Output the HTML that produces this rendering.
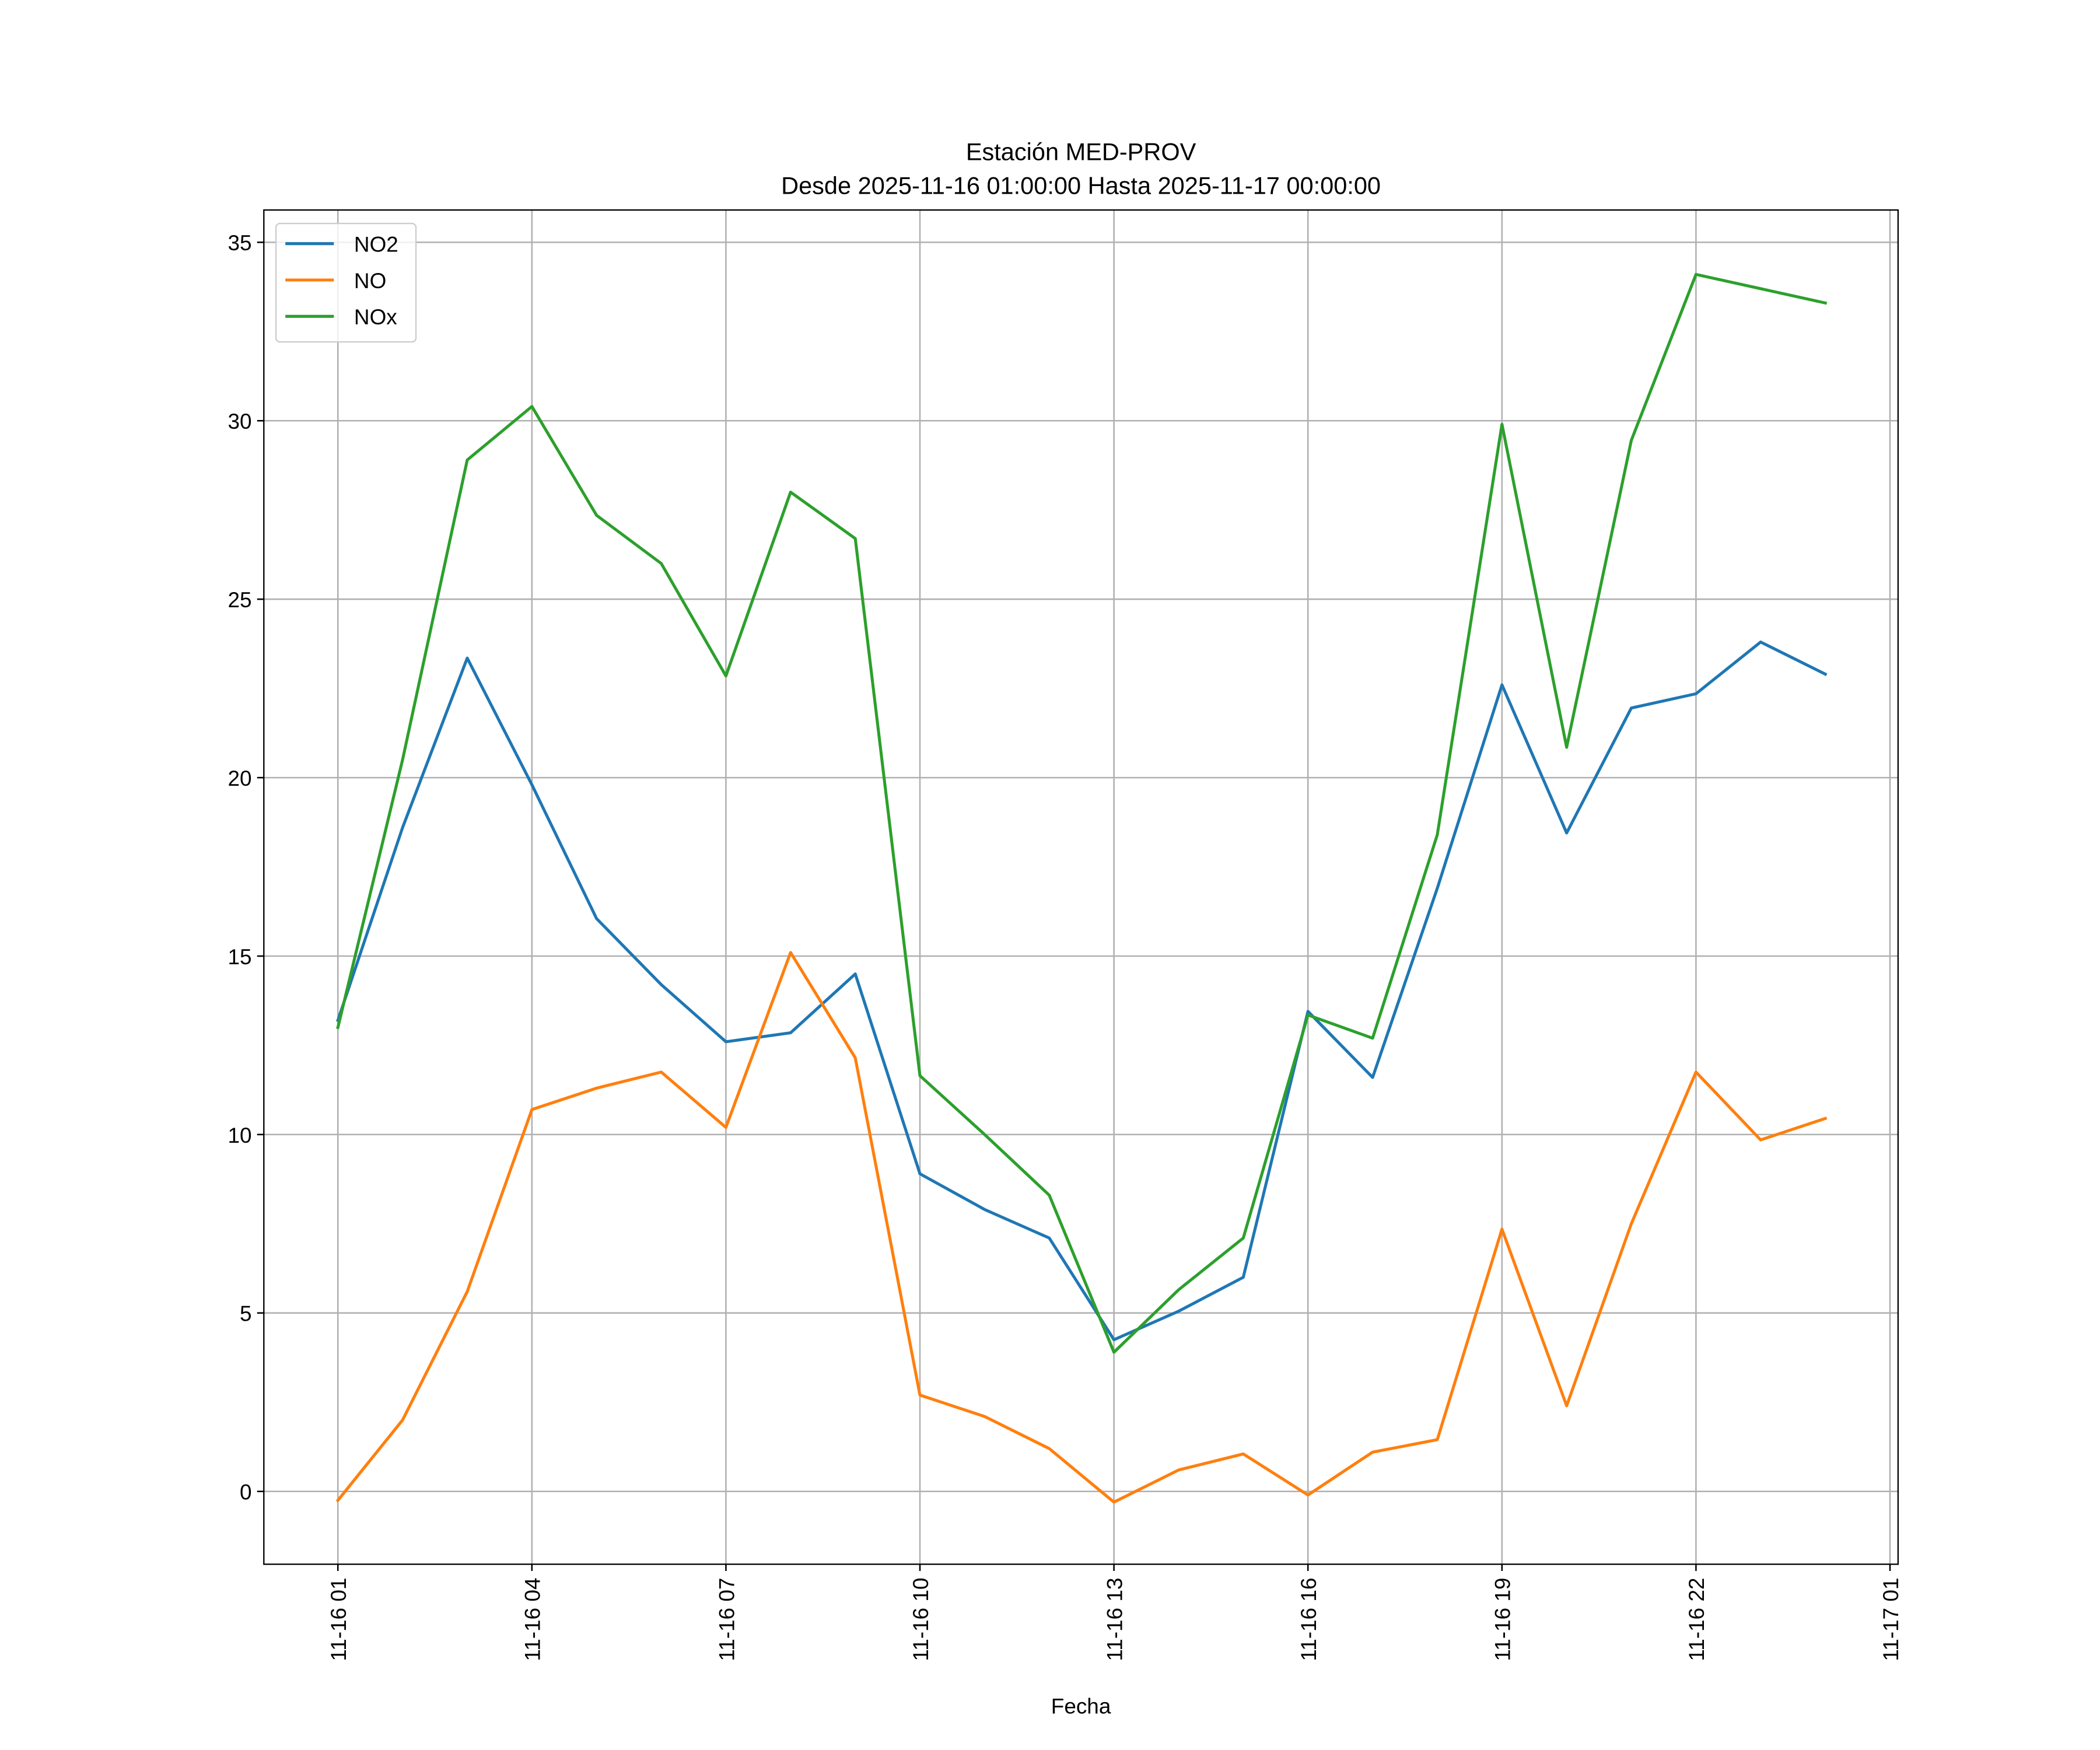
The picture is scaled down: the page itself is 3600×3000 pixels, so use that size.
<!DOCTYPE html>
<html><head><meta charset="utf-8"><style>
html,body{margin:0;padding:0;background:#fff}
svg{display:block}
text{font-family:"Liberation Sans","DejaVu Sans",sans-serif;fill:#000}
</style></head><body>
<svg id="chart" width="3600" height="3000" viewBox="0 0 1560 1300" xmlns="http://www.w3.org/2000/svg">
<rect width="1560" height="1300" fill="#fff"/>
<text x="803" y="119" font-size="18" text-anchor="middle">Estación MED-PROV</text>
<text x="803" y="144" font-size="18" text-anchor="middle">Desde 2025-11-16 01:00:00 Hasta 2025-11-17 00:00:00</text>
<g id="grid"></g>
<g id="series"></g>
<rect x="196" y="156" width="1214" height="1006" fill="none" stroke="#000" stroke-width="1"/>
<g id="axes"></g>
<text x="803" y="1273" font-size="16" text-anchor="middle">Fecha</text>
<g id="legend"></g>
</svg>
<script>
const hours=[0,1,2,3,4,5,6,7,8,9,10,11,12,13,14,15,16,17,18,19,20,21,22,23];
const no2=[13.2,18.6,23.35,19.8,16.05,14.2,12.6,12.85,14.5,8.9,7.9,7.1,4.25,5.05,6.0,13.45,11.6,16.9,22.6,18.45,21.95,22.35,23.8,22.9];
const no=[-0.25,2.0,5.6,10.7,11.3,11.75,10.2,15.1,12.15,2.7,2.1,1.2,-0.3,0.6,1.05,-0.1,1.1,1.45,7.35,2.4,7.5,11.75,9.85,10.45];
const nox=[13.0,20.5,28.9,30.4,27.35,26.0,22.85,28.0,26.7,11.65,10.0,8.3,3.9,5.65,7.1,13.35,12.7,18.4,29.9,20.85,29.45,34.1,33.7,33.3];
const yTicks=[0,5,10,15,20,25,30,35];
const xTickHours=[0,3,6,9,12,15,18,21,24];
const xTickLabels=["11-16 01","11-16 04","11-16 07","11-16 10","11-16 13","11-16 16","11-16 19","11-16 22","11-17 01"];
const seriesNames=["NO2","NO","NOx"];
const seriesColors=["#1f77b4","#ff7f0e","#2ca02c"];

const X0=196,X1=1410,Y0=1162,Y1=156;
const xMin=-1.145,xMax=24.125,yMin=-2.04,yMax=35.905;
const xs=h=>X0+(h-xMin)/(xMax-xMin)*(X1-X0);
const ys=v=>Y0-(v-yMin)/(yMax-yMin)*(Y0-Y1);
const NS="http://www.w3.org/2000/svg";
function mk(tag,attrs,parent){const e=document.createElementNS(NS,tag);for(const k in attrs)e.setAttribute(k,attrs[k]);parent.appendChild(e);return e;}
const grid=document.getElementById('grid'),axes=document.getElementById('axes'),ser=document.getElementById('series'),leg=document.getElementById('legend');

yTicks.forEach(v=>{
  const y=ys(v);
  const g=mk('line',{x1:X0,x2:X1,y1:y,y2:y,stroke:'#b0b0b0','stroke-width':1.1},grid);
  
  
  const t=mk('line',{x1:X0-5,x2:X0,y1:y,y2:y,stroke:'#000','stroke-width':1.1},axes);
  
  
  const l=mk('text',{x:X0-9,y:y+6,'font-size':16,'text-anchor':'end'},axes);
  l.textContent=v;
  
  
});
xTickHours.forEach((h,i)=>{
  const x=xs(h);
  const g=mk('line',{x1:x,x2:x,y1:Y0,y2:Y1,stroke:'#b0b0b0','stroke-width':1.1},grid);
  
  
  const t=mk('line',{x1:x,x2:x,y1:Y0,y2:Y0+5,stroke:'#000','stroke-width':1.1},axes);
  
  
  const l=mk('text',{x:0,y:0,'font-size':16,'text-anchor':'end',transform:`translate(${x+6},${Y0+10}) rotate(-90)`},axes);
  l.textContent=xTickLabels[i];
  
  
});
[no2,no,nox].forEach((arr,si)=>{
  const p=mk('polyline',{points:arr.map((v,i)=>xs(hours[i])+','+ys(v)).join(' '),fill:'none',stroke:seriesColors[si],'stroke-width':2.2,'stroke-linejoin':'round','stroke-linecap':'square'},ser);
  
  
});
const box=mk('rect',{x:205,y:166,width:104,height:88,rx:3,fill:'#fff','fill-opacity':0.8,stroke:'#ccc','stroke-width':1},leg);


seriesNames.forEach((n,i)=>{
  const y=181+i*27;
  const ln=mk('line',{x1:212,x2:248,y1:y,y2:y,stroke:seriesColors[i],'stroke-width':2.2},leg);
  
  
  const t=mk('text',{x:263,y:y+6,'font-size':16},leg);
  t.textContent=n;
  
  
});
</script>
</body></html>
